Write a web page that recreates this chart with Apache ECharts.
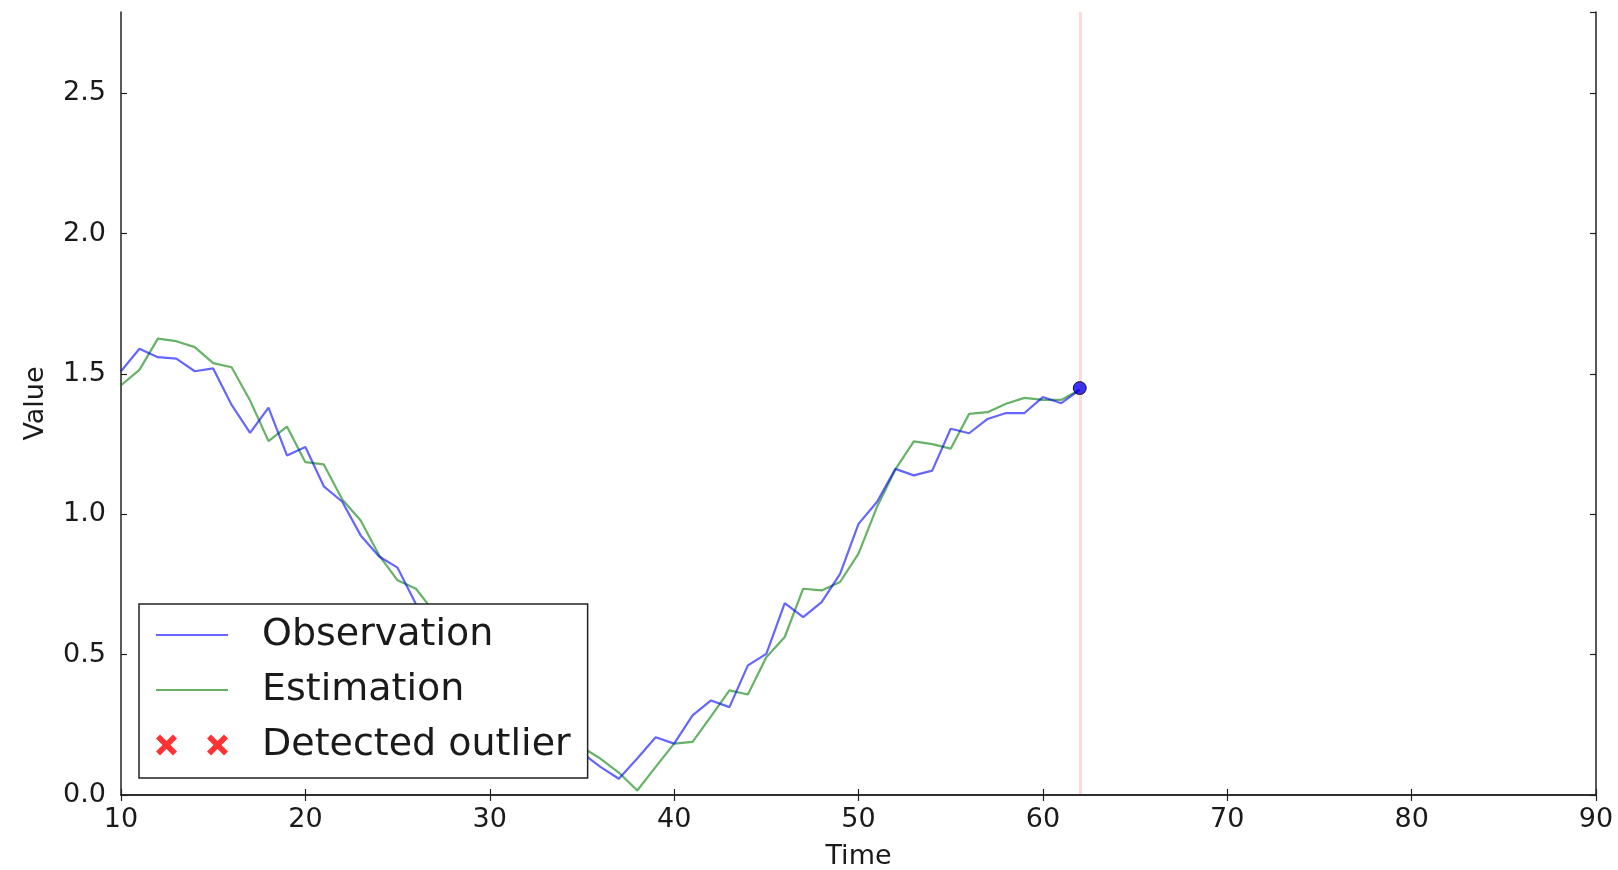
<!DOCTYPE html>
<html>
<head>
<meta charset="utf-8">
<title>Observation vs Estimation</title>
<script src="https://cdn.jsdelivr.net/npm/echarts@6/dist/echarts.min.js"></script>
<style>
  html, body { margin: 0; padding: 0; background: #fff; }
  #chart { width: 1618px; height: 870px; }
</style>
</head>
<body>
<div id="chart"></div>
<script>
// time steps
var times = [10, 11, 12, 13, 14, 15, 16, 17, 18, 19, 20, 21, 22, 23, 24, 25, 26, 27, 28, 29,
             30, 31, 32, 33, 34, 35, 36, 37, 38, 39, 40, 41, 42, 43, 44, 45, 46, 47, 48, 49,
             50, 51, 52, 53, 54, 55, 56, 57, 58, 59, 60, 61, 62];

var observation = [1.51, 1.59, 1.56, 1.555, 1.51, 1.52, 1.39, 1.29, 1.38, 1.21,
                   1.24, 1.10, 1.045, 0.925, 0.85, 0.81, 0.68, 0.60, 0.54, 0.47,
                   0.42, 0.36, 0.30, 0.25, 0.19, 0.15, 0.10, 0.058, 0.13, 0.206,
                   0.183, 0.284, 0.337, 0.313, 0.462, 0.503, 0.684, 0.634, 0.687, 0.788,
                   0.966, 1.044, 1.162, 1.139, 1.156, 1.305, 1.289, 1.340, 1.361, 1.361,
                   1.418, 1.396, 1.444];

var estimation = [1.46, 1.515, 1.626, 1.617, 1.596, 1.539, 1.524, 1.406, 1.261, 1.313,
                  1.186, 1.178, 1.053, 0.978, 0.854, 0.765, 0.735, 0.65, 0.58, 0.52,
                  0.46, 0.40, 0.34, 0.29, 0.22, 0.17, 0.13, 0.08, 0.016, 0.10,
                  0.183, 0.189, 0.28, 0.373, 0.358, 0.491, 0.563, 0.735, 0.729, 0.759,
                  0.860, 1.026, 1.16, 1.260, 1.250, 1.234, 1.358, 1.364, 1.394, 1.415,
                  1.408, 1.408, 1.444];

var outliers = [];          // none detected
var currentPoint = [62, 1.45];
var cutTime = 62;

var xTicks = [10, 20, 30, 40, 50, 60, 70, 80, 90];
var yTicks = [0.0, 0.5, 1.0, 1.5, 2.0, 2.5];

var FONT = 'DejaVu Sans';
var INK = '#1a1a1a';

function pairs(xs, ys) {
    var out = [];
    for (var i = 0; i < xs.length; i++) out.push([xs[i], ys[i]]);
    return out;
}

// two filled X markers, as matplotlib draws them in the legend
function xMark(cx, cy, r, t) {
    return 'M' + (cx - r) + ',' + (cy - r + t) + ' L' + (cx - r + t) + ',' + (cy - r) +
        ' L' + cx + ',' + (cy - t) + ' L' + (cx + r - t) + ',' + (cy - r) +
        ' L' + (cx + r) + ',' + (cy - r + t) + ' L' + (cx + t) + ',' + cy +
        ' L' + (cx + r) + ',' + (cy + r - t) + ' L' + (cx + r - t) + ',' + (cy + r) +
        ' L' + cx + ',' + (cy + t) + ' L' + (cx - r + t) + ',' + (cy + r) +
        ' L' + (cx - r) + ',' + (cy + r - t) + ' L' + (cx - t) + ',' + cy + ' Z';
}
var twoX = 'path://' + xMark(10.5, 10.5, 10.5, 4) + ' ' + xMark(61.5, 10.5, 10.5, 4);

var frameLine = { show: true, lineStyle: { color: '#222', width: 1.5 } };
var innerTick = { show: true, inside: true, length: 6, lineStyle: { color: '#222', width: 1.2 } };
var tickFont = { color: INK, fontFamily: FONT, fontSize: 27 };

var chart = echarts.init(document.getElementById('chart'));
chart.setOption({
    animation: false,
    backgroundColor: '#fff',
    grid: { left: 121, right: 22, top: 12, bottom: 75, containLabel: false, outerBoundsMode: 'none' },
    legend: {
        orient: 'vertical',
        left: 139,
        top: 604,
        padding: [10, 17, 12, 16],
        itemWidth: 72,
        itemHeight: 22,
        itemGap: 13,
        selectedMode: false,
        backgroundColor: '#fff',
        borderColor: '#222',
        borderWidth: 1.5,
        textStyle: { color: INK, fontFamily: FONT, fontSize: 38, lineHeight: 42, padding: [0, 0, 0, 29] },
        data: [
            // hide the dot ECharts puts in the middle of a line icon
            { name: 'Observation', itemStyle: { opacity: 0 } },
            { name: 'Estimation', itemStyle: { opacity: 0 } },
            { name: 'Detected outlier', icon: twoX, itemStyle: { color: '#ff0000' } }
        ]
    },
    xAxis: [{
        type: 'value',
        min: xTicks[0],
        max: xTicks[xTicks.length - 1],
        interval: 10,
        name: 'Time',
        nameLocation: 'middle',
        nameGap: 48,
        nameTextStyle: { color: INK, fontFamily: FONT, fontSize: 27 },
        axisLine: frameLine,
        axisTick: innerTick,
        axisLabel: Object.assign({ margin: 11 }, tickFont),
        splitLine: { show: false }
    }, {
        type: 'value',
        position: 'top',
        min: xTicks[0],
        max: xTicks[xTicks.length - 1],
        interval: 10,
        axisLine: frameLine,
        axisTick: innerTick,
        axisLabel: { show: false },
        splitLine: { show: false }
    }],
    yAxis: [{
        type: 'value',
        min: 0,
        max: 2.79,
        interval: 0.5,
        name: 'Value',
        nameLocation: 'middle',
        nameGap: 72,
        nameTextStyle: { color: INK, fontFamily: FONT, fontSize: 27 },
        axisLine: frameLine,
        axisTick: innerTick,
        axisLabel: Object.assign({
            margin: 15,
            showMaxLabel: false,
            formatter: function (v) { return yTicks.indexOf(v) >= 0 ? v.toFixed(1) : ''; }
        }, tickFont),
        splitLine: { show: false }
    }, {
        type: 'value',
        position: 'right',
        min: 0,
        max: 2.79,
        interval: 0.5,
        axisLine: frameLine,
        axisTick: innerTick,
        axisLabel: { show: false },
        splitLine: { show: false }
    }],
    series: [
        {
            name: 'Observation',
            type: 'line',
            data: pairs(times, observation),
            showSymbol: false,
            symbol: 'none',
            lineStyle: { color: 'rgba(0,0,255,0.6)', width: 2.2 },
            itemStyle: { color: 'rgba(0,0,255,0.6)' },
            z: 3
        },
        {
            name: 'Estimation',
            type: 'line',
            data: pairs(times, estimation),
            showSymbol: false,
            symbol: 'none',
            lineStyle: { color: 'rgba(0,128,0,0.6)', width: 2.2 },
            itemStyle: { color: 'rgba(0,128,0,0.6)' },
            z: 2
        },
        {
            name: 'Detected outlier',
            type: 'scatter',
            data: outliers,
            symbol: twoX,
            symbolSize: 16,
            itemStyle: { color: '#ff0000' }
        },
        {
            name: 'current',
            type: 'scatter',
            data: [currentPoint],
            symbolSize: 13,
            itemStyle: { color: '#0000ff', borderColor: '#000', borderWidth: 1 },
            z: 4,
            markLine: {
                silent: true,
                symbol: 'none',
                label: { show: false },
                lineStyle: { color: 'rgba(255,0,0,0.15)', width: 3, type: 'solid' },
                data: [{ xAxis: cutTime }]
            }
        }
    ]
});
</script>
</body>
</html>
